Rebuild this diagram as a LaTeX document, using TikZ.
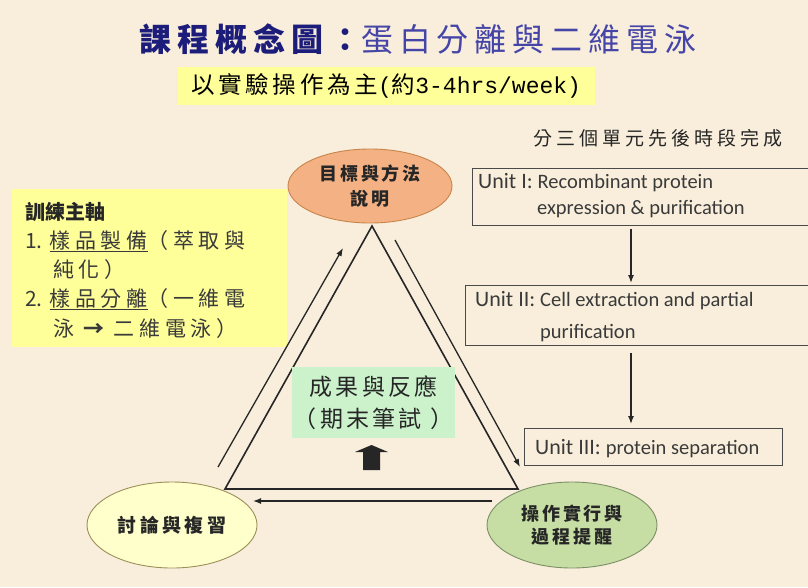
\documentclass[tikz,border=0pt]{standalone}
\usepackage{fontspec}
\usetikzlibrary{shapes.geometric,arrows.meta}
\newfontfamily\cjk{Noto Sans CJK TC}
\newfontfamily\carl{Carlito}
\newfontfamily\mono{Liberation Mono}
\newcommand\myfs[2]{\fontsize{#1}{#2}\selectfont}
\newcommand\lsp[1]{\addfontfeature{LetterSpace=#1}}
\definecolor{bgc}{HTML}{F8EEDB}
\definecolor{navyc}{HTML}{1C1C7A}
\definecolor{tbluec}{HTML}{4545A8}
\definecolor{yellowc}{HTML}{FFFF99}
\definecolor{greenbox}{HTML}{CCF2CC}
\definecolor{orangec}{HTML}{F4B183}
\definecolor{orangeb}{HTML}{C8844A}
\definecolor{lyell}{HTML}{FFFFCC}
\definecolor{lyellb}{HTML}{9C8F5A}
\definecolor{lgreen}{HTML}{C6DDA4}
\definecolor{lgreenb}{HTML}{7D8F66}
\definecolor{linec}{HTML}{262626}
\definecolor{uboxc}{HTML}{4A4A4A}
\definecolor{utxtc}{HTML}{3A3A3A}
\definecolor{ltxtc}{HTML}{3A3A3A}
\begin{document}
\begin{tikzpicture}[x=1pt,y=-1pt,
  ell/.style={ellipse, draw, line width=0.9pt, inner sep=0pt, align=center},
  ubox/.style={draw=uboxc, line width=1.4pt, inner sep=0pt, anchor=north west},
  arr/.style={draw=linec, line width=1.3pt, -{Latex[length=8pt,width=6pt]}},
  tri/.style={draw=linec, line width=1.6pt},
  utxt/.style={anchor=base west, inner sep=0pt, text=utxtc, font=\carl},
  ltxt/.style={anchor=west, inner sep=0pt, text=ltxtc, font=\cjk}]
\fill[bgc] (0,0) rectangle (808,587);
\useasboundingbox (0,0) rectangle (808,587);

% title
\node (title) at (418,39) {\cjk\myfs{32}{32}\lsp{18.5}{\bfseries\color{navyc}課程概念圖：}{\color{tbluec}蛋白分離與二維電泳}};

% subtitle
\node[fill=yellowc, minimum width=417pt, minimum height=38pt, inner sep=0pt] (sub) at (386,86)
  {{\cjk\myfs{23.5}{23}\lsp{16}以實驗操作為主}{\mono\myfs{23}{23}(}{\cjk\myfs{23.5}{23}\lsp{16}約}{\mono\myfs{23}{23}3-4hrs/week)}};

% heading on the right
\node[text=linec] (units) at (658,138) {\cjk\myfs{19}{19}\lsp{21}分三個單元先後時段完成};

% left box
\node[fill=yellowc, minimum width=275pt, minimum height=158pt, anchor=north west, inner sep=0pt] (train) at (12,189) {};
\node[ltxt, text=linec] (t0) at (25,212) {\myfs{20}{20}\bfseries 訓練主軸};
\node[ltxt] (t1) at (25,241) {\myfs{21}{21}1.\hspace{7pt}{\lsp{22}\underline{樣品製備}（萃取與}};
\node[ltxt] (t2) at (53,270) {\myfs{21}{21}\lsp{22}純化）};
\node[ltxt] (t3) at (25,299) {\myfs{21}{21}2.\hspace{7pt}{\lsp{22}\underline{樣品分離}（一維電}};
\node[ltxt] (t4) at (53,329) {\myfs{21}{21}\lsp{22}泳 {\bfseries →} 二維電泳）};

% ellipses
\node[ell, fill=orangec, draw=orangeb, minimum width=164pt, minimum height=74pt, text=linec,
  font={\cjk\bfseries\myfs{18}{25}\lsp{15}}] (goal) at (370,186) {目標與方法\\說明};
\node[ell, fill=lyell, draw=lyellb, minimum width=170pt, minimum height=86pt, text=linec,
  font={\cjk\bfseries\myfs{19}{19}\lsp{18}}] (disc) at (172,525) {討論與複習};
\node[ell, fill=lgreen, draw=lgreenb, minimum width=170pt, minimum height=86pt, text=linec,
  font={\cjk\bfseries\myfs{18}{23}\lsp{15}}] (oper) at (572,525) {操作實行與\\過程提醒};

% triangle
\coordinate (apex) at (372,226);
\coordinate (tbl) at (225,489);
\coordinate (tbr) at (518,489);
\draw[tri] (apex) -- (tbl) -- (tbr) -- cycle;

% cycle arrows
\coordinate (a1s) at (218,467);
\coordinate (a1e) at (343,248);
\coordinate (a2s) at (395,240);
\coordinate (a2e) at (520,467);
\coordinate (a3s) at (492,501);
\coordinate (a3e) at (253,501);
\draw[arr] (a1s) -- (a1e);
\draw[arr] (a2s) -- (a2e);
\draw[arr] (a3s) -- (a3e);

% result box
\node[fill=greenbox, minimum width=163pt, minimum height=71pt, inner sep=0pt, align=center, text=linec,
  font={\cjk\myfs{23}{32}\lsp{14}}] (result) at (373.5,402.5) {成果與反應\\（期末筆試 ）};
\fill[linec] (355,452) -- (371.5,445) -- (388,452) -- (380,452) -- (380,470) -- (363,470) -- (363,452) -- cycle;

% unit boxes
\node[ubox, minimum width=345pt, minimum height=57pt] (u1) at (472,168) {};
\node[ubox, minimum width=347pt, minimum height=60pt] (u2) at (465,285) {};
\node[ubox, minimum width=258pt, minimum height=37pt] (u3) at (524,428) {};
\node[utxt] (u1a) at (478,188) {\myfs{22}{22}Unit I: \myfs{20.5}{20.5}Recombinant protein};
\node[utxt] (u1b) at (537,214) {\myfs{20.5}{20.5}expression \& purification};
\node[utxt] (u2a) at (475,306) {\myfs{22}{22}Unit II: \myfs{20.5}{20.5}Cell extraction and partial};
\node[utxt] (u2b) at (540,338) {\myfs{20.5}{20.5}purification};
\node[utxt] (u3a) at (535,454) {\myfs{22}{22}Unit III: \myfs{20.5}{20.5}protein separation};

\coordinate (ax) at (631,0);
\draw[arr, shorten <=3pt, shorten >=2pt] (ax |- u1.south) -- (ax |- u2.north);
\draw[arr, shorten <=7pt, shorten >=4pt] (ax |- u2.south) -- (ax |- u3.north);
\end{tikzpicture}
\end{document}
